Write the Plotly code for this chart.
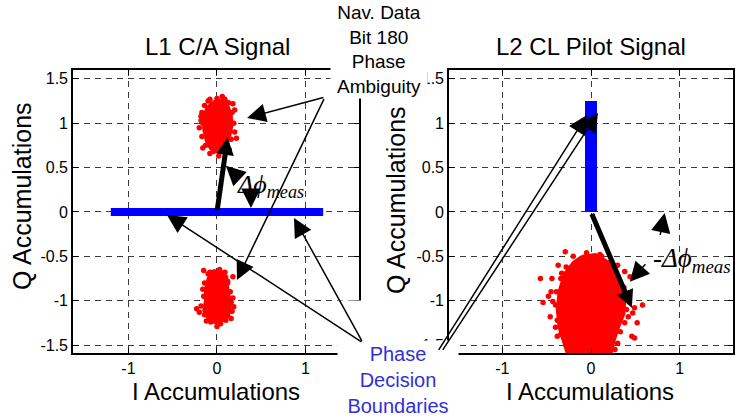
import plotly.graph_objects as go

W, H = 735, 418

# ---------------- data ----------------
# L1 C/A prompt correlator: dense core outlines and scattered samples (I, Q)
ca_top_core_i = [-0.05, 0.05, 0.12, 0.16, 0.17, 0.15, 0.12, 0.07, 0.00, -0.07, -0.12, -0.15, -0.15, -0.12]
ca_top_core_q = [1.24, 1.26, 1.20, 1.10, 0.98, 0.88, 0.79, 0.72, 0.68, 0.71, 0.80, 0.93, 1.05, 1.16]
ca_top_pts_i = [0.06, -0.17, -0.20, 0.20, 0.20, 0.22, -0.16, -0.08, 0.02, 0.18, -0.10, 0.14, -0.18,
                -0.14, -0.16, -0.17, -0.13, -0.04, 0.10, 0.16, 0.19, 0.17, 0.13, 0.00, -0.08, 0.09, -0.18, 0.14]
ca_top_pts_q = [1.30, 1.12, 0.95, 1.15, 0.90, 0.83, 0.72, 0.66, 0.63, 1.22, 1.25, 0.70, 1.03,
                1.20, 1.00, 0.85, 0.75, 0.68, 0.75, 0.82, 1.00, 1.12, 1.23, 1.28, 1.27, 1.27, 1.08, 0.95]

ca_bot_core_i = [-0.05, 0.05, 0.11, 0.12, 0.14, 0.15, 0.13, 0.06, -0.02, -0.10, -0.15, -0.13, -0.13, -0.10]
ca_bot_core_q = [-0.66, -0.67, -0.73, -0.85, -0.96, -1.08, -1.18, -1.23, -1.25, -1.20, -1.11, -1.00, -0.88, -0.75]
ca_bot_pts_i = [-0.23, -0.20, 0.19, 0.18, 0.18, 0.09, -0.16, 0.00, -0.15, 0.16, -0.12, 0.12,
                -0.08, 0.03, 0.12, 0.15, 0.16, 0.17, 0.10, 0.04, -0.07, -0.14, -0.18, -0.15, -0.14, -0.10]
ca_bot_pts_q = [-1.09, -1.13, -1.07, -0.97, -0.73, -0.68, -0.87, -1.29, -0.66, -1.20, -1.23, -0.80,
                -0.68, -0.65, -0.78, -0.90, -1.02, -1.12, -1.22, -1.26, -1.24, -1.16, -1.06, -0.95, -0.80, -0.70]

# L2 CL pilot prompt correlator
cl_core_i = [-0.10, 0.05, 0.17, 0.27, 0.34, 0.38, 0.37, 0.31, 0.26, 0.22, -0.26, -0.31, -0.36, -0.38, -0.36, -0.30, -0.20]
cl_core_q = [-0.50, -0.48, -0.55, -0.68, -0.84, -1.00, -1.15, -1.30, -1.45, -1.62, -1.62, -1.45, -1.30, -1.10, -0.90, -0.70, -0.57]
cl_pts_i = [-0.29, 0.10, -0.37, -0.57, -0.44, -0.33, 0.21, 0.38, 0.44, 0.58, 0.49, 0.42, 0.47,
            -0.54, -0.43, -0.40, -0.38, 0.46, 0.49, -0.27, -0.31, 0.21, 0.01, 0.30, -0.45, 0.40,
            -0.20, -0.05, 0.12, 0.22, 0.30, 0.37, 0.41, 0.40, 0.38, 0.33, 0.30, -0.28, -0.34, -0.38,
            -0.40, -0.39, -0.34, -0.28, -0.48, 0.27, 0.52, -0.46]
cl_pts_q = [-0.45, -0.48, -0.60, -0.75, -0.75, -0.69, -0.57, -0.67, -0.73, -1.05, -1.08, -1.18, -1.14,
            -1.02, -1.01, -1.30, -1.40, -1.40, -1.42, -1.52, -1.40, -1.55, -1.58, -0.60, -0.90, -0.95,
            -0.50, -0.46, -0.50, -0.60, -0.72, -0.85, -0.98, -1.10, -1.25, -1.35, -1.48, -1.50, -1.38, -1.22,
            -1.05, -0.90, -0.75, -0.62, -0.95, -1.55, -1.25, -1.18]

# phase decision boundaries
ca_bound_i = [-1.2, 1.2]
ca_bound_q = [0.0, 0.0]
cl_bound_i = [0.0, 0.0]
cl_bound_q = [0.0, 1.25]

# measured prompt phase vectors (tip)
ca_vec_i, ca_vec_q = 0.12, 0.84
cl_vec_i, cl_vec_q = 0.46, -1.08

x_ticks = [-1, 0, 1]
x_tick_text = ["-1", "0", "1"]
y_ticks = [-1.5, -1, -0.5, 0, 0.5, 1, 1.5]
y_tick_text = ["-1.5", "-1", "-0.5", "0", "0.5", "1", "1.5"]

RED = "#ff0000"
BLUE = "#0000ff"
LABEL_BLUE = "#3030d8"
SANS = "Liberation Sans, Arial, sans-serif"
SERIF = "Liberation Serif, Times New Roman, serif"


def px_x(p):
    return p / W


def px_y(p):
    return 1 - p / H


fig = go.Figure()


def cluster(core_i, core_q, pts_i, pts_q, xa, ya):
    fig.add_trace(go.Scatter(x=core_i + core_i[:1], y=core_q + core_q[:1], mode="lines",
                             fill="toself", fillcolor=RED, line=dict(color=RED, width=3),
                             xaxis=xa, yaxis=ya, hoverinfo="skip"))
    fig.add_trace(go.Scatter(x=pts_i, y=pts_q, mode="markers",
                             marker=dict(color=RED, size=5.5), cliponaxis=True,
                             xaxis=xa, yaxis=ya, hoverinfo="skip"))


cluster(ca_top_core_i, ca_top_core_q, ca_top_pts_i, ca_top_pts_q, "x", "y")
cluster(ca_bot_core_i, ca_bot_core_q, ca_bot_pts_i, ca_bot_pts_q, "x", "y")
cluster(cl_core_i, cl_core_q, cl_pts_i, cl_pts_q, "x2", "y2")

fig.add_trace(go.Scatter(x=ca_bound_i, y=ca_bound_q, mode="lines",
                         line=dict(color=BLUE, width=8), xaxis="x", yaxis="y"))
fig.add_trace(go.Scatter(x=cl_bound_i, y=cl_bound_q, mode="lines",
                         line=dict(color=BLUE, width=12), xaxis="x2", yaxis="y2"))

axis_common = dict(
    showgrid=True, gridcolor="#3a3a3a", gridwidth=1, griddash="6px,5px",
    showline=True, linecolor="black", linewidth=1.6, mirror="ticks",
    ticks="inside", ticklen=5, tickcolor="black", tickwidth=1,
    zeroline=False, tickfont=dict(family=SANS, size=16, color="black"),
    fixedrange=True,
)
y_dom = [px_y(353), px_y(70)]

fig.update_layout(
    width=W, height=H, margin=dict(l=0, r=0, t=0, b=0),
    paper_bgcolor="white", plot_bgcolor="white", showlegend=False,
    xaxis=dict(domain=[px_x(73), px_x(359)], range=[-1.627, 1.605], anchor="y",
               tickvals=x_ticks, ticktext=x_tick_text, **axis_common),
    yaxis=dict(domain=y_dom, range=[-1.59, 1.6], anchor="x",
               tickvals=y_ticks, ticktext=y_tick_text, **axis_common),
    xaxis2=dict(domain=[px_x(449), px_x(733)], range=[-1.6, 1.6], anchor="y2",
                tickvals=x_ticks, ticktext=x_tick_text, **axis_common),
    yaxis2=dict(domain=y_dom, range=[-1.59, 1.6], anchor="x2",
                tickvals=y_ticks, ticktext=y_tick_text, **axis_common),
)

ann = []


def text(t, x, y, size, color="black", family=SANS, angle=0, xanchor="center", yanchor="middle"):
    ann.append(dict(text=t, x=px_x(x), y=px_y(y), xref="paper", yref="paper",
                    xanchor=xanchor, yanchor=yanchor,
                    showarrow=False, textangle=angle,
                    font=dict(family=family, size=size, color=color)))


# titles and axis labels
text("L1 C/A Signal", 217, 47, 24)
text("L2 CL Pilot Signal", 591, 47, 24)
text("I Accumulations", 216, 391, 24)
text("I Accumulations", 590, 391, 24)
text("Q Accumulations", 22, 196, 25, angle=-90)
text("Q Accumulations", 396, 200, 25, angle=-90)

# callout boxes
ann.append(dict(text="Nav. Data<br>Bit 180<br>Phase<br>Ambiguity", x=px_x(379), y=1,
                xref="paper", yref="paper", xanchor="center", yanchor="top",
                width=96, height=97, bgcolor="white", borderpad=0, showarrow=False,
                font=dict(family=SANS, size=19, color="black")))
ann.append(dict(text="Phase<br>Decision<br>Boundaries", x=px_x(398), y=0,
                xref="paper", yref="paper", xanchor="center", yanchor="bottom",
                width=120, height=76, valign="bottom", bgcolor="white", borderpad=0,
                showarrow=False, font=dict(family=SANS, size=20, color=LABEL_BLUE)))
ann.append(dict(text=" ", x=px_x(337), y=px_y(300), xref="paper", yref="paper",
                xanchor="left", yanchor="top", width=26, height=48, bgcolor="white",
                borderpad=0, showarrow=False, font=dict(size=10)))

# phase labels
text("<i>Δϕ</i><sub><i>meas</i></sub>", 235, 186, 26, family=SERIF, xanchor="left")
text("-<i>Δϕ</i><sub><i>meas</i></sub>", 651, 260, 27, family=SERIF, xanchor="left")


def arrow(tail, head, xa, ya, width, size, head_style=2):
    ann.append(dict(x=head[0], y=head[1], ax=tail[0], ay=tail[1],
                    xref=xa, yref=ya, axref=xa, ayref=ya, text=" ",
                    showarrow=True, arrowhead=head_style, arrowsize=size,
                    arrowwidth=width, arrowcolor="black", font=dict(size=1)))


# pointers from the callouts
arrow((1.22, 1.295), (0.34, 1.06), "x", "y", 1.5, 2.5)
arrow((1.22, 1.295), (0.226, -0.766), "x", "y", 1.5, 2.5)
arrow((1.65, -1.475), (-0.565, -0.034), "x", "y", 1.5, 2.5)
arrow((1.65, -1.475), (0.87, -0.068), "x", "y", 1.5, 2.5)
arrow((-1.73, -1.577), (-0.045, 1.092), "x2", "y2", 1.5, 2.5)
arrow((-1.685, -1.577), (0.079, 1.115), "x2", "y2", 1.5, 2.5)

# measured phase vectors
arrow((0, 0), (ca_vec_i, ca_vec_q), "x", "y", 5, 0.7)
arrow((0, 0), (cl_vec_i, cl_vec_q), "x2", "y2", 5, 0.7)

# angle markers
arrow((0.26, 0.37), (0.10, 0.52), "x", "y", 1.5, 2.6)
arrow((0.384, 0.28), (0.384, 0.045), "x", "y", 1.5, 2.6)
arrow((0.775, -0.28), (0.83, -0.011), "x2", "y2", 1.5, 2.6)
arrow((0.63, -0.57), (0.438, -0.788), "x2", "y2", 1.5, 2.6)

fig.update_layout(annotations=ann)
fig.write_html("out.html")
